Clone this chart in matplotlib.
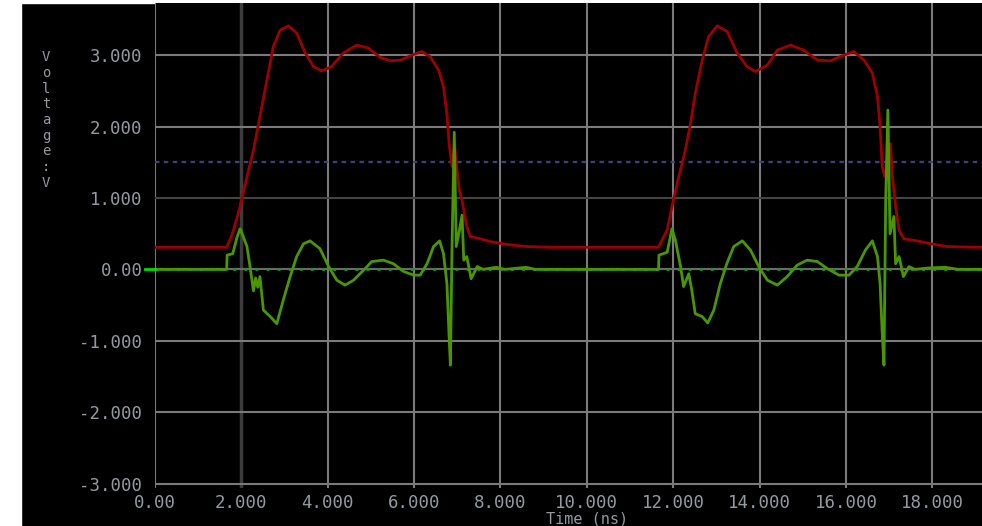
import matplotlib
matplotlib.use("Agg")
import matplotlib.pyplot as plt
from matplotlib.patches import Rectangle
import numpy as np

# red trace: signal voltage (time in ns, volts)
red_t = [0.00, 1.66, 1.74, 1.82, 1.97, 2.13, 2.28, 2.43, 2.59, 2.74, 2.90, 3.09, 3.28, 3.48,
         3.67, 3.86, 4.09, 4.36, 4.67, 4.94, 5.21, 5.45, 5.68, 5.99, 6.18, 6.37, 6.57, 6.68,
         6.76, 6.81, 6.88, 6.94, 6.99, 7.05, 7.11, 7.15, 7.22, 7.30, 7.53, 7.76, 8.15, 8.61,
         9.20, 11.66, 11.74, 11.86, 11.97, 12.13, 12.28, 12.40, 12.51, 12.67, 12.82, 13.02,
         13.25, 13.48, 13.71, 13.90, 14.18, 14.41, 14.72, 15.02, 15.34, 15.64, 15.95, 16.18,
         16.42, 16.61, 16.73, 16.79, 16.84, 16.90, 16.97, 17.03, 17.07, 17.15, 17.23, 17.34,
         17.65, 17.96, 18.35, 19.04, 19.20]
red_v = [0.31, 0.31, 0.42, 0.55, 0.88, 1.30, 1.67, 2.14, 2.65, 3.12, 3.35, 3.41, 3.31, 3.03,
         2.84, 2.78, 2.84, 3.03, 3.14, 3.10, 2.97, 2.92, 2.93, 3.01, 3.05, 2.98, 2.79, 2.56,
         2.18, 1.76, 1.44, 1.75, 1.40, 1.10, 0.97, 0.83, 0.60, 0.46, 0.43, 0.39, 0.35, 0.32,
         0.31, 0.31, 0.41, 0.55, 0.88, 1.30, 1.67, 2.04, 2.46, 2.93, 3.26, 3.41,
         3.33, 3.03, 2.84, 2.77, 2.86, 3.07, 3.14, 3.07, 2.93, 2.92, 3.00, 3.05,
         2.93, 2.75, 2.42, 2.00, 1.44, 1.30, 1.55, 1.76, 1.34, 0.88, 0.55, 0.43,
         0.40, 0.36, 0.32, 0.31, 0.31]

# green trace: differential / ringing signal
green_t = [0.00, 1.66, 1.67, 1.80, 1.90, 1.97, 2.05, 2.13, 2.20, 2.28, 2.33, 2.38, 2.43, 2.51,
           2.67, 2.82, 2.97, 3.13, 3.28, 3.44, 3.59, 3.82, 4.02, 4.21, 4.40, 4.60, 4.83, 5.02,
           5.29, 5.52, 5.76, 5.99, 6.14, 6.30, 6.45, 6.59, 6.68, 6.76, 6.81, 6.84, 6.88, 6.93,
           6.975, 7.05, 7.11, 7.15, 7.22, 7.32, 7.46, 7.60, 7.90, 8.10, 8.60, 8.80, 11.66,
           11.67, 11.86, 11.97, 12.05, 12.17, 12.24, 12.36, 12.43, 12.51, 12.67, 12.80, 12.94,
           13.09, 13.24, 13.40, 13.60, 13.79, 13.98, 14.18, 14.41, 14.64, 14.87, 15.10, 15.34,
           15.57, 15.84, 16.07, 16.26, 16.45, 16.61, 16.73, 16.79, 16.84, 16.88, 16.92, 16.97,
           17.02, 17.11, 17.15, 17.23, 17.33, 17.46, 17.60, 17.90, 18.30, 18.60, 19.20]
green_v = [0.00, 0.00, 0.20, 0.22, 0.45, 0.57, 0.45, 0.32, 0.04, -0.30, -0.12, -0.25, -0.10, -0.57,
           -0.66, -0.76, -0.43, -0.10, 0.18, 0.36, 0.40, 0.29, 0.04, -0.15, -0.22, -0.15, -0.01, 0.11,
           0.13, 0.08, -0.03, -0.08, -0.08, 0.08, 0.32, 0.40, 0.22, -0.20, -0.94, -1.34, 0.40, 1.92,
           0.32, 0.55, 0.76, 0.13, 0.18, -0.13, 0.04, 0.00, 0.03, 0.00, 0.03, 0.00, 0.00,
           0.20, 0.24, 0.57, 0.41, 0.04, -0.24, -0.06, -0.29, -0.62, -0.66, -0.75, -0.57,
           -0.20, 0.08, 0.32, 0.40, 0.27, 0.04, -0.15, -0.22, -0.10, 0.06, 0.13, 0.11,
           0.01, -0.08, -0.08, 0.04, 0.27, 0.40, 0.18, -0.20, -0.90, -1.34, 0.97, 2.23,
           0.50, 0.74, 0.08, 0.18, -0.10, 0.04, 0.00, 0.02, 0.03, 0.00, 0.00]

threshold = 1.5
x_ticks = [0, 2, 4, 6, 8, 10, 12, 14, 16, 18]
x_labels = ["0.00", "2.000", "4.000", "6.000", "8.000", "10.000", "12.000", "14.000", "16.000", "18.000"]
y_ticks = [-3, -2, -1, 0, 1, 2, 3]
y_labels = ["-3.000", "-2.000", "-1.000", "0.00", "1.000", "2.000", "3.000"]

W, H = 982, 526
fig = plt.figure(figsize=(W / 100, H / 100), dpi=100)
fig.patch.set_facecolor("black")
# white strips left and top
fig.patches.append(Rectangle((0, 0), 21 / W, 1, transform=fig.transFigure, color="white", zorder=-1))
fig.patches.append(Rectangle((0, 1 - 3 / H), 1, 3 / H, transform=fig.transFigure, color="white", zorder=-1))

ax = fig.add_axes([155 / W, 38 / H, 1 - 155 / W, (488 - 3) / H])
ax.set_facecolor("black")
ax.set_xlim(0, 19.15)
ax.set_ylim(-3.06, 3.73)
for s in ax.spines.values():
    s.set_visible(False)

txt = "#959aa0"
ax.set_xticks(x_ticks)
ax.set_xticklabels(x_labels)
ax.set_yticks(y_ticks)
ax.set_yticklabels(y_labels)
ax.tick_params(length=0, colors=txt, labelsize=12.5, pad=9)
for lab in ax.get_xticklabels() + ax.get_yticklabels():
    lab.set_family("DejaVu Sans Mono")
ax.tick_params(axis="x", pad=4)

ax.grid(True, color="#7a7a7a", linewidth=1.5, zorder=0)
ax.set_axisbelow(True)
xg = ax.get_xgridlines()
yg = ax.get_ygridlines()
xg[1].set_color("#3c3c3c")
xg[1].set_linewidth(2.5)
yg[4].set_color("#444444")

# reference lines
ax.axhline(0, color="#6a6a6a", lw=1.5, zorder=1)
ax.axhline(0, color="#1a9a1a", lw=2, ls=(0, (1, 3)), zorder=1)
ax.axhline(threshold, color="#40407a", lw=1.6, ls=(0, (2, 2)), zorder=1)

ax.plot(red_t, red_v, color="#9a0000", lw=2, zorder=3)
ax.plot(green_t, green_v, color="#4a9600", lw=2, zorder=4)
ax.plot([-0.22, 0], [0, 0], color="#00dd00", lw=2, clip_on=False, zorder=5)

fig.text(587 / W, 1 - 519 / H, "Time (ns)", color=txt, fontsize=11,
         family="DejaVu Sans Mono", ha="center", va="center")
fig.text(46 / W, 1 - 120 / H, "\n".join("Voltage:V"), color=txt, fontsize=10,
         family="DejaVu Sans Mono", ha="center", va="center", linespacing=1.15)

fig.savefig("out.png", dpi=100, facecolor=fig.get_facecolor())
